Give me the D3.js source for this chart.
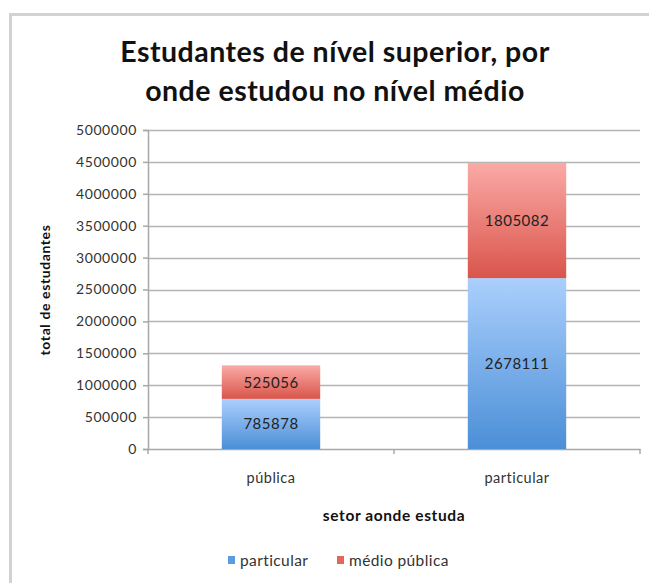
<!DOCTYPE html>
<html>
<head>
<meta charset="utf-8">
<script src="https://cdn.jsdelivr.net/npm/d3@7"></script>
<style>
  html, body { margin: 0; padding: 0; background: #fff; }
  svg { display: block; font-family: Lato, "Open Sans", sans-serif; }
</style>
</head>
<body>
<div id="chart"></div>
<script>
// data
const categories = ['pública', 'particular'];
const seriesNames = ['particular', 'médio pública'];
const particularValues = [785878, 2678111];
const medioPublicaValues = [525056, 1805082];
const yTicks = [0, 500000, 1000000, 1500000, 2000000, 2500000, 3000000, 3500000, 4000000, 4500000, 5000000];

const width = 649;
const height = 583;
const margin = {top: 130, right: 9, bottom: 134, left: 148};
const plotW = width - margin.left - margin.right;
const plotH = height - margin.top - margin.bottom;

const rows = categories.map((c, i) => ({
  category: c,
  particular: particularValues[i],
  'médio pública': medioPublicaValues[i]
}));
const stack = d3.stack().keys(seriesNames)(rows);

const svg = d3.select('#chart').append('svg')
  .attr('width', width)
  .attr('height', height);

const defs = svg.append('defs');
const gradients = [
  {id: 'grad-blue', top: '#abcffd', bottom: '#4b8fd7'},
  {id: 'grad-red', top: '#fbaaa6', bottom: '#d9554b'}
];
gradients.forEach(g => {
  const lg = defs.append('linearGradient')
    .attr('id', g.id)
    .attr('x1', 0).attr('y1', 0).attr('x2', 0).attr('y2', 1);
  lg.append('stop').attr('offset', '0%').attr('stop-color', g.top);
  lg.append('stop').attr('offset', '100%').attr('stop-color', g.bottom);
});
const fills = {particular: 'url(#grad-blue)', 'médio pública': 'url(#grad-red)'};
const legendColors = {particular: '#5b9be0', 'médio pública': '#e5665e'};

// frame
svg.append('path')
  .attr('d', `M10.5,${height} V14.5 H${width}`)
  .attr('fill', 'none')
  .attr('stroke', '#d2d2d2')
  .attr('stroke-width', 3);

// title
const title = svg.append('text')
  .attr('text-anchor', 'middle')
  .attr('font-size', 28.5)
  .attr('letter-spacing', 0.5)
  .attr('font-weight', 'bold')
  .attr('fill', '#111');
title.append('tspan').attr('x', 335).attr('y', 62).text('Estudantes de nível superior, por');
title.append('tspan').attr('x', 335).attr('y', 101).text('onde estudou no nível médio');

const g = svg.append('g').attr('transform', `translate(${margin.left},${margin.top})`);

const x = d3.scaleBand().domain(categories).range([0, plotW]).paddingInner(0.6).paddingOuter(0.3);
const y = d3.scaleLinear().domain([0, 5000000]).range([plotH, 0]);

// gridlines
g.append('g')
  .selectAll('line')
  .data(yTicks.slice(1))
  .enter()
  .append('line')
  .attr('x1', 0)
  .attr('x2', plotW)
  .attr('y1', d => Math.round(y(d)) + 0.5)
  .attr('y2', d => Math.round(y(d)) + 0.5)
  .attr('stroke', '#b4b4b4')
  .attr('stroke-width', 1.5);

// y axis
const yAxis = g.append('g')
  .call(d3.axisLeft(y).tickValues(yTicks).tickFormat(d3.format('d')).tickSize(5).tickPadding(6));
yAxis.selectAll('path, line').attr('stroke', '#a8a8a8').attr('stroke-width', 1.5);
yAxis.selectAll('text')
  .attr('font-size', 14)
  .attr('letter-spacing', 0.6)
  .attr('fill', '#333')
  .attr('font-family', 'Lato, "Open Sans", sans-serif');

// x axis
const xAxis = g.append('g')
  .attr('transform', `translate(0,${plotH})`)
  .call(d3.axisBottom(x).tickSize(0).tickPadding(24));
xAxis.select('.domain').attr('stroke', '#a8a8a8').attr('stroke-width', 1.5);
xAxis.selectAll('text')
  .attr('font-size', 14.5)
  .attr('letter-spacing', 0.5)
  .attr('fill', '#333')
  .attr('font-family', 'Lato, "Open Sans", sans-serif');
// category separator ticks
g.append('g')
  .selectAll('line')
  .data([0, plotW / 2, plotW])
  .enter()
  .append('line')
  .attr('x1', d => d)
  .attr('x2', d => d)
  .attr('y1', plotH)
  .attr('y2', plotH + 5)
  .attr('stroke', '#a8a8a8')
  .attr('stroke-width', 1.5);

// bars
const layers = g.selectAll('.layer')
  .data(stack)
  .enter()
  .append('g')
  .attr('class', 'layer');

layers.selectAll('rect')
  .data(d => d.map(v => ({key: d.key, v})))
  .enter()
  .append('rect')
  .attr('x', d => x(d.v.data.category))
  .attr('y', d => y(d.v[1]))
  .attr('width', x.bandwidth())
  .attr('height', d => y(d.v[0]) - y(d.v[1]))
  .attr('fill', d => fills[d.key]);

layers.selectAll('text')
  .data(d => d.map(v => ({key: d.key, v})))
  .enter()
  .append('text')
  .attr('x', d => x(d.v.data.category) + x.bandwidth() / 2)
  .attr('y', d => (y(d.v[0]) + y(d.v[1])) / 2)
  .attr('dy', '0.36em')
  .attr('text-anchor', 'middle')
  .attr('font-size', 15)
  .attr('letter-spacing', 0.5)
  .attr('fill', '#222')
  .text(d => d.v[1] - d.v[0]);

// axis titles
svg.append('text')
  .attr('transform', `translate(50,290) rotate(-90)`)
  .attr('text-anchor', 'middle')
  .attr('font-size', 14)
  .attr('letter-spacing', 0.6)
  .attr('font-weight', 'bold')
  .attr('fill', '#111')
  .text('total de estudantes');

svg.append('text')
  .attr('x', margin.left + plotW / 2)
  .attr('y', 521)
  .attr('text-anchor', 'middle')
  .attr('font-size', 15.5)
  .attr('letter-spacing', 0.6)
  .attr('font-weight', 'bold')
  .attr('fill', '#111')
  .text('setor aonde estuda');

// legend
const legendX = [228, 337];
const legend = svg.append('g').attr('transform', 'translate(0,566)');
seriesNames.forEach((name, i) => {
  legend.append('rect')
    .attr('x', legendX[i])
    .attr('y', -10)
    .attr('width', 7)
    .attr('height', 8)
    .attr('fill', legendColors[name]);
  legend.append('text')
    .attr('x', legendX[i] + 12)
    .attr('y', 0)
    .attr('font-size', 15.5)
    .attr('letter-spacing', 0.4)
    .attr('fill', '#333')
    .text(name);
});
</script>
</body>
</html>
